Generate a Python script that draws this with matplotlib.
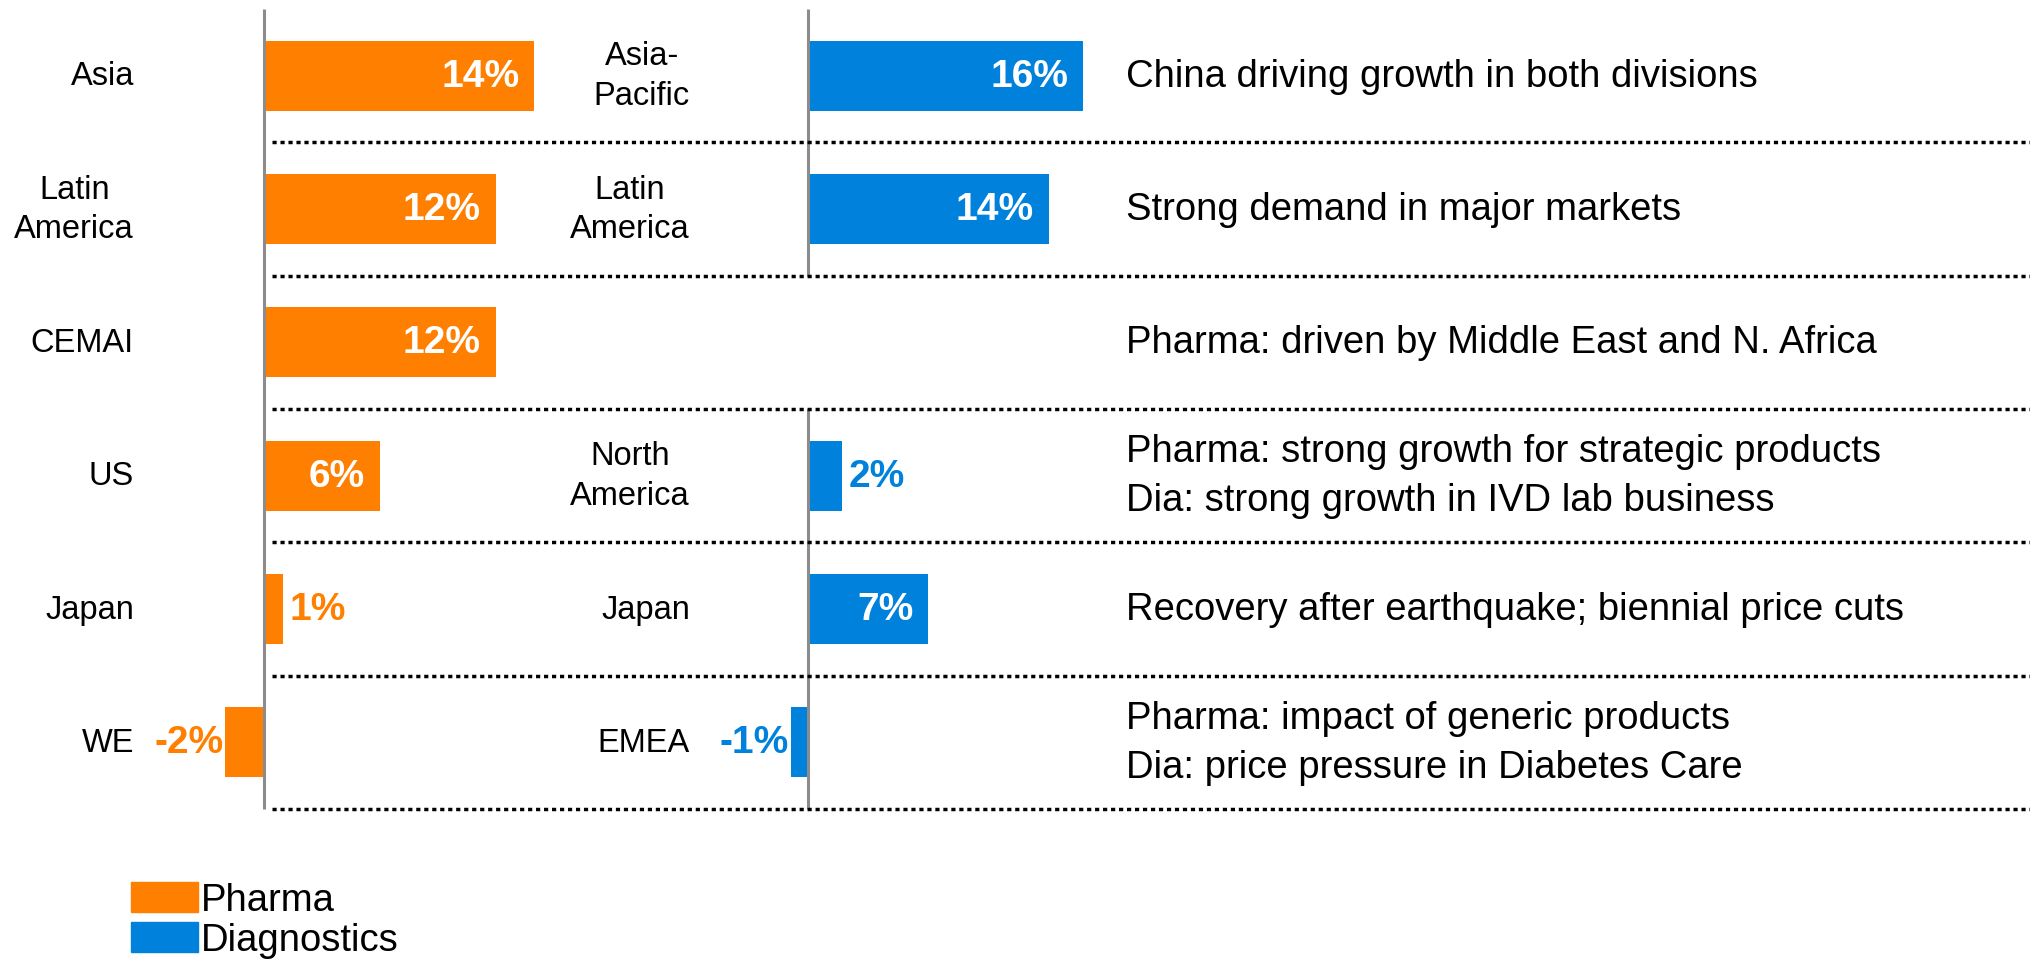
import matplotlib.pyplot as plt
import matplotlib.transforms as mtransforms

# data
pharma_regions = ['Asia', 'Latin\nAmerica', 'CEMAI', 'US', 'Japan', 'WE']
pharma_growth = [14, 12, 12, 6, 1, -2]
dia_regions = ['Asia-\nPacific', 'Latin\nAmerica', '', 'North\nAmerica', 'Japan', 'EMEA']
dia_growth = [16, 14, None, 2, 7, -1]
comments = ['China driving growth in both divisions',
            'Strong demand in major markets',
            'Pharma: driven by Middle East and N. Africa',
            'Pharma: strong growth for strategic products\nDia: strong growth in IVD lab business',
            'Recovery after earthquake; biennial price cuts',
            'Pharma: impact of generic products\nDia: price pressure in Diabetes Care']
series_names = ['Pharma', 'Diagnostics']

ORANGE = '#FF8000'
BLUE = '#0082DC'
GREY = '#8c8c8c'

plt.rcParams['font.family'] = ['Liberation Sans', 'DejaVu Sans']

W, H = 2031, 962
fig = plt.figure(figsize=(W / 100, H / 100), dpi=100)


def px_axes(x0, x1, y0, y1):
    # box given in pixels from the top-left corner
    return fig.add_axes([x0 / W, 1 - y1 / H, (x1 - x0) / W, (y1 - y0) / H])


def scaled_xlim(x0, x1, zero, px_per_pct):
    return ((x0 - zero) / px_per_pct, (x1 - zero) / px_per_pct)


n = len(pharma_regions)
axp = px_axes(140, 700, 10, 810)
axd = px_axes(700, 1120, 10, 810)
axl = px_axes(272, W, 10, 810)

axp.set_xlim(*scaled_xlim(140, 700, 264, 19.3))
axd.set_xlim(*scaled_xlim(700, 1120, 808, 17.2))
axl.set_xlim(0, 1)
for ax in (axp, axd, axl):
    ax.set_ylim(n - 0.5, -0.5)
    ax.axis('off')

# separators
axl.hlines([i + 0.5 for i in range(n)], 0, 1, colors='black', lw=2.5,
           linestyles=(0, (1.2, 1.1)), clip_on=False)


def draw_panel(ax, regions, growth, color, label_off):
    rows = [i for i, v in enumerate(growth) if v is not None]
    vals = [growth[i] for i in rows]
    ax.barh(rows, vals, height=0.525, color=color, zorder=2)

    # zero line, broken where a row has no value
    seg = []
    for i in range(n + 1):
        if i < n and growth[i] is not None:
            seg.append(i)
        elif seg:
            ax.vlines(0, seg[0] - 0.5, seg[-1] + 0.5, colors=GREY, lw=2.2,
                      zorder=3, clip_on=False)
            seg = []

    for i in rows:
        v = growth[i]
        ax.annotate(regions[i], xy=(0, i), xytext=(label_off, 0),
                    textcoords='offset pixels', ha='right', va='center',
                    multialignment='center', fontsize=23.5, linespacing=1.35)
        txt = f'{v}%'
        if abs(v) >= 5:
            ax.annotate(txt, xy=(v, i), xytext=(-15, 0), textcoords='offset pixels',
                        ha='right', va='center', color='white',
                        fontsize=28, fontweight='bold')
        elif v > 0:
            ax.annotate(txt, xy=(v, i), xytext=(6, 0), textcoords='offset pixels',
                        ha='left', va='center', color=color,
                        fontsize=28, fontweight='bold')
        else:
            ax.annotate(txt, xy=(v, i), xytext=(-2, 0), textcoords='offset pixels',
                        ha='right', va='center', color=color,
                        fontsize=28, fontweight='bold')


draw_panel(axp, pharma_regions, pharma_growth, ORANGE, -130)
draw_panel(axd, dia_regions, dia_growth, BLUE, -118)

# comments column
trans = mtransforms.blended_transform_factory(fig.transFigure, axp.transData)
for i, c in enumerate(comments):
    fig.text(1126 / W, i, c, transform=trans, ha='left', va='center',
             fontsize=27.5, linespacing=1.45)

# legend
handles = [plt.Rectangle((0, 0), 1, 1, color=ORANGE),
           plt.Rectangle((0, 0), 1, 1, color=BLUE)]
fig.legend(handles, series_names, loc='upper left',
           bbox_to_anchor=(131 / W, 1 - 883 / H), frameon=False,
           fontsize=27.5, handlelength=1.76, handleheight=0.82,
           handletextpad=0.08, labelspacing=0.1, borderpad=0, borderaxespad=0)

fig.savefig('out.png', dpi=100)
